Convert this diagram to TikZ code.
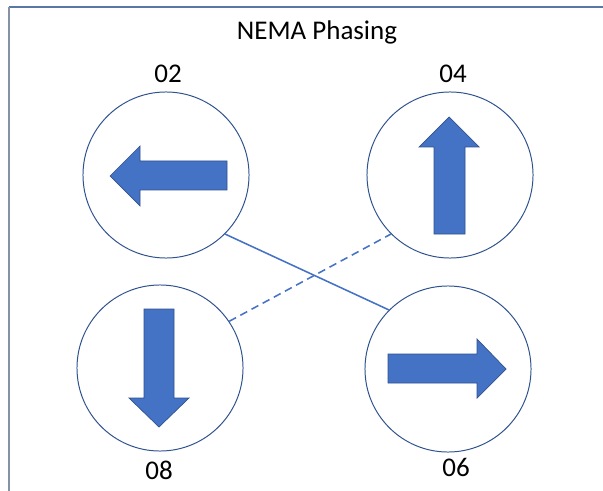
\documentclass[tikz,border=0pt]{standalone}
\usepackage{fontspec}
\setmainfont{Carlito}
\usepackage{tikz}

\definecolor{ringblue}{HTML}{2F528F}
\definecolor{fillblue}{HTML}{4472C4}
\definecolor{frametop}{HTML}{5A76A6}
\definecolor{frameleft}{HTML}{8592A4}

\tikzset{
	phase/.style={circle, draw=ringblue, line width=0.7pt, fill=white, minimum size=4.15cm, inner sep=0pt},
	arrowfill/.style={fill=fillblue, draw=ringblue, line width=0.5pt, line join=miter},
	link/.style={draw=fillblue, line width=1.1pt},
	lbl/.style={anchor=base, font=\fontsize{19.2}{23}\selectfont}
}

\begin{document}
\begin{tikzpicture}[x=0.025cm, y=-0.025cm]
	\useasboundingbox (0,0) rectangle (603,491);

	% frame
	\draw [frametop, line width=1.4pt] (9,7) -- (603,7);
	\draw [frameleft, line width=1pt] (9,7) -- (9,491);

	\node[lbl] (title) at (317,40) {NEMA Phasing};

	% phases
	\node[phase] (p02) at (166,175) {};
	\node[phase] (p04) at (450,175) {};
	\node[phase] (p08) at (160,368) {};
	\node[phase] (p06) at (448,369) {};

	\node[lbl] (l02) at (168,83) {02};
	\node[lbl] (l04) at (453,83) {04};
	\node[lbl] (l08) at (159,479) {08};
	\node[lbl] (l06) at (456,476) {06};

	% barrier links
	\draw [link] (p02.south east) -- (p06.north west);
	\draw [link, dash pattern=on 5.5pt off 3.5pt] (p08.34) -- (p04.south west);

	% movement arrows
	\filldraw [arrowfill] (110,176) -- (140,146) -- (140,161) -- (227,161) -- (227,190) -- (140,190) -- (140,206) -- cycle;
	\filldraw [arrowfill] (449,117) -- (479,147) -- (465,147) -- (465,234) -- (434,234) -- (434,147) -- (419,147) -- cycle;
	\filldraw [arrowfill] (159,427) -- (129,398) -- (144,398) -- (144,309) -- (174,309) -- (174,398) -- (189,398) -- cycle;
	\filldraw [arrowfill] (506,369) -- (477,339) -- (477,354) -- (388,354) -- (388,383) -- (477,383) -- (477,398) -- cycle;
\end{tikzpicture}
\end{document}
